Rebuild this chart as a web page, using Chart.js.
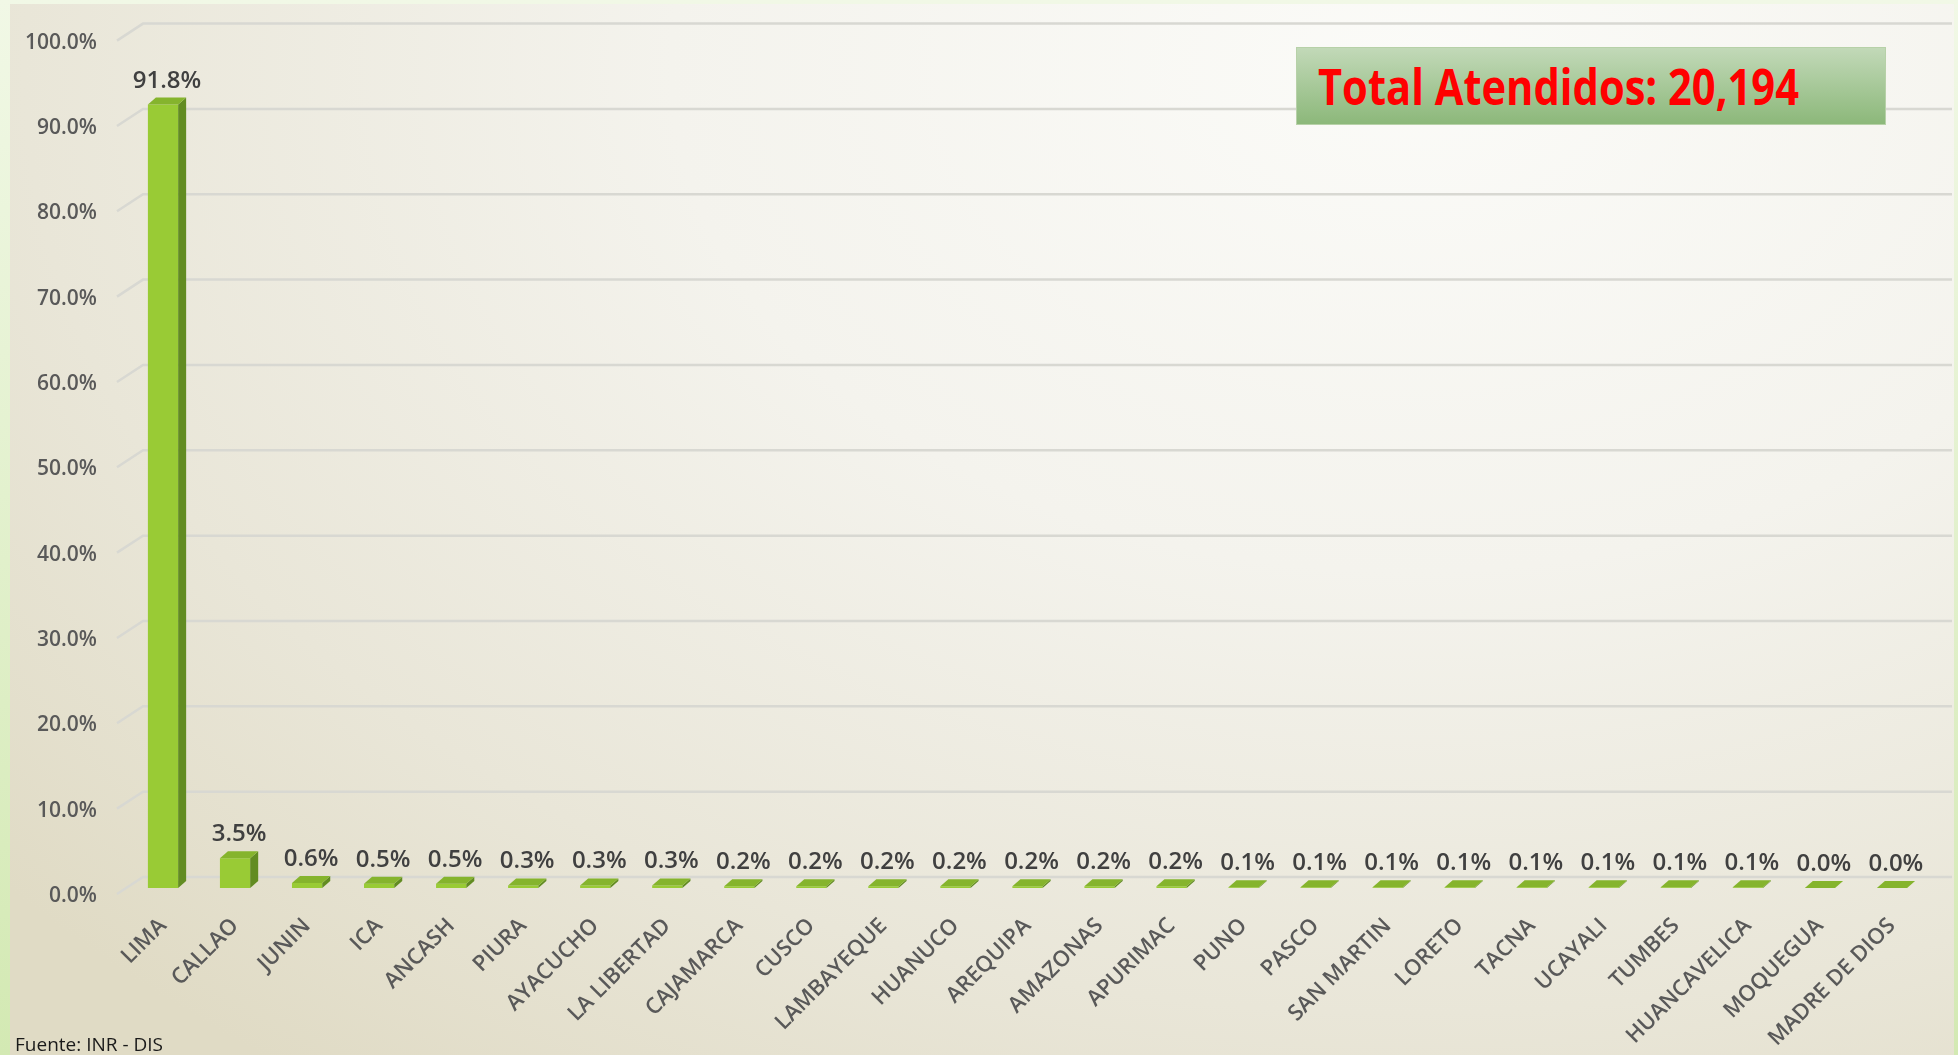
<!DOCTYPE html>
<html>
<head>
<meta charset="utf-8">
<script src="https://cdn.jsdelivr.net/npm/chart.js@4.4.1/dist/chart.umd.min.js"></script>
<style>
  html, body { margin: 0; padding: 0; width: 1958px; height: 1055px; overflow: hidden; }
  body { background: linear-gradient(to bottom, #f1f8e6, #d3e9b3); position: relative; font-family: 'Open Sans', sans-serif; }
  #panel { position: absolute; left: 10px; top: 4px; width: 1944px; height: 1051px;
           background: radial-gradient(ellipse 95% 120% at 72% 6%, #fbfbf8 0%, #f4f3ed 40%, #e9e6d8 75%, #e0dbc5 100%); }
  #wrap { position: absolute; left: 0; top: 0; width: 1958px; height: 1055px; }
  #total { position: absolute; left: 1296px; top: 47px; width: 590px; height: 78px; box-sizing: border-box;
           background: linear-gradient(#c2d9b8, #8cb87a); border: 1px solid #b7d1a8; }
  #total span { position: absolute; left: 21px; top: 13px; font-weight: 700; font-size: 50px; line-height: 50px;
                color: #ff0000; white-space: nowrap; transform-origin: left center; }
  #fuente { position: absolute; left: 15px; top: 1035px; font-size: 19px; line-height: 19px; color: #1a1a1a; }
</style>
</head>
<body>
<div id="panel"></div>
<div id="wrap"><canvas id="chart" width="1958" height="1055"></canvas></div>
<div id="total"><span id="totalText">Total Atendidos: 20,194</span></div>
<div id="fuente">Fuente: INR - DIS</div>
<script>
// Departments (x axis categories)
const departments = ['LIMA', 'CALLAO', 'JUNIN', 'ICA', 'ANCASH', 'PIURA', 'AYACUCHO', 'LA LIBERTAD',
  'CAJAMARCA', 'CUSCO', 'LAMBAYEQUE', 'HUANUCO', 'AREQUIPA', 'AMAZONAS', 'APURIMAC', 'PUNO',
  'PASCO', 'SAN MARTIN', 'LORETO', 'TACNA', 'UCAYALI', 'TUMBES', 'HUANCAVELICA', 'MOQUEGUA', 'MADRE DE DIOS'];
// Share of patients per department (%)
const percentages = [91.8, 3.5, 0.6, 0.5, 0.5, 0.3, 0.3, 0.3,
  0.2, 0.2, 0.2, 0.2, 0.2, 0.2, 0.2, 0.1,
  0.1, 0.1, 0.1, 0.1, 0.1, 0.1, 0.1, 0.0, 0.0];
// y axis ticks
const yTicks = [0, 10, 20, 30, 40, 50, 60, 70, 80, 90, 100];

// squeeze the title text to the box width (Calibri-like narrow look)
const t = document.getElementById('totalText');
t.style.transform = 'scaleX(' + (481 / t.getBoundingClientRect().width) + ')';

Chart.defaults.font.family = "'Open Sans', sans-serif";

const depth = { dx: 8, dy: 7 };

// fake 3D: back wall gridlines, bar side/top faces, value labels
const bar3d = {
  id: 'bar3d',
  beforeDatasetsDraw(chart) {
    const { ctx, chartArea, scales: { y } } = chart;
    ctx.save();
    ctx.strokeStyle = '#d8d8d2';
    ctx.lineWidth = 2.5;
    yTicks.forEach(v => {
      const py = y.getPixelForValue(v);
      ctx.beginPath();
      ctx.moveTo(chartArea.left - 10, py + 6);
      ctx.lineTo(chartArea.left + 16, py - 11);
      ctx.lineTo(chartArea.right + 24, py - 11);
      ctx.stroke();
    });
    ctx.restore();
  },
  afterDatasetsDraw(chart) {
    const { ctx } = chart;
    const { dx, dy } = depth;
    ctx.save();
    chart.getDatasetMeta(0).data.forEach((bar, i) => {
      const { x, y, base, width } = bar.getProps(['x', 'y', 'base', 'width'], true);
      const l = x - width / 2, r = x + width / 2;
      // side face
      ctx.fillStyle = '#628c22';
      ctx.beginPath();
      ctx.moveTo(r, y); ctx.lineTo(r + dx, y - dy); ctx.lineTo(r + dx, base - dy); ctx.lineTo(r, base);
      ctx.closePath(); ctx.fill();
      // top face
      ctx.fillStyle = '#85b42d';
      ctx.beginPath();
      ctx.moveTo(l, y); ctx.lineTo(l + dx, y - dy); ctx.lineTo(r + dx, y - dy); ctx.lineTo(r, y);
      ctx.closePath(); ctx.fill();
      // value label
      ctx.fillStyle = '#404040';
      ctx.font = "600 24px 'Open Sans', sans-serif";
      ctx.textAlign = 'center';
      ctx.textBaseline = 'alphabetic';
      ctx.fillText(percentages[i].toFixed(1) + '%', x + 4, y - 17);
    });
    ctx.restore();
  }
};

const ctx = document.getElementById('chart').getContext('2d');
new Chart(ctx, {
  type: 'bar',
  data: {
    labels: departments,
    datasets: [{
      data: percentages,
      backgroundColor: '#99cb35',
      borderWidth: 0,
      categoryPercentage: 1,
      barPercentage: 0.42
    }]
  },
  options: {
    responsive: false,
    animation: false,
    layout: { padding: { left: 0, right: 30, top: 31, bottom: 0 } },
    plugins: { legend: { display: false }, tooltip: { enabled: false } },
    scales: {
      x: {
        grid: { display: false },
        border: { display: false },
        ticks: {
          autoSkip: false, minRotation: 45, maxRotation: 45, padding: 17,
          color: '#595959', font: { size: 22, weight: '600' }
        },
        afterFit: s => { s.height = 167; }
      },
      y: {
        min: 0, max: 100,
        grid: { display: false },
        border: { display: false },
        ticks: {
          stepSize: 10, padding: 22, labelOffset: 8,
          color: '#595959', font: { size: 21, weight: '600' },
          callback: v => v.toFixed(1) + '%'
        },
        afterFit: s => { s.width = 127; }
      }
    }
  },
  plugins: [bar3d]
});
</script>
</body>
</html>
